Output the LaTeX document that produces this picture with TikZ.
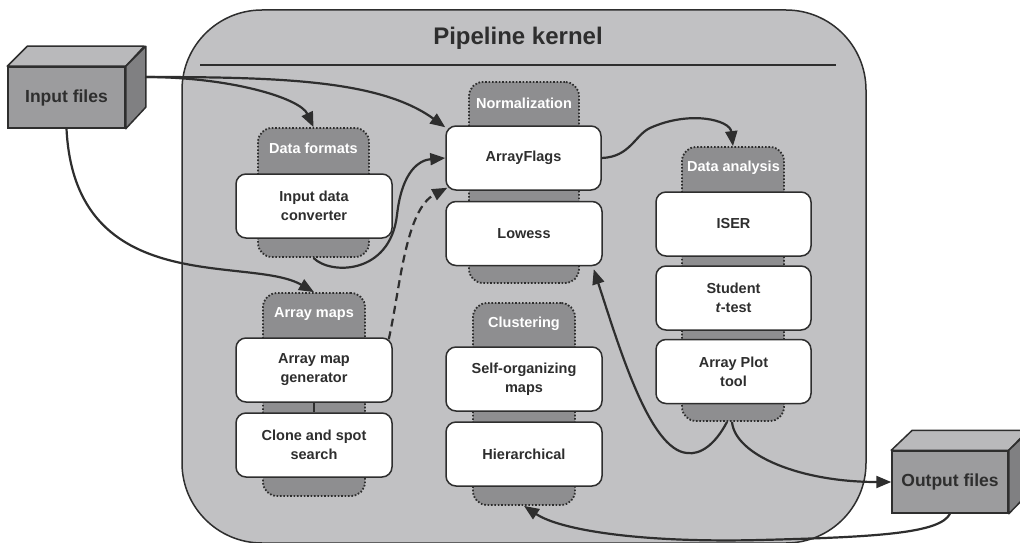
\documentclass[tikz,border=0pt]{standalone}
\usepackage{fontspec}
\setmainfont{Liberation Sans}
\usetikzlibrary{arrows.meta,calc}
\definecolor{ink}{HTML}{2E2E2E}
\definecolor{kernelgray}{HTML}{C1C1C3}
\definecolor{grpgray}{HTML}{8E8E90}
\definecolor{cubefront}{HTML}{9C9C9E}
\definecolor{cubetop}{HTML}{B9B9BB}
\definecolor{cubeside}{HTML}{808082}
\begin{document}
\begin{tikzpicture}[x=1pt,y=-1pt,
  kernelbox/.style={draw=ink, fill=kernelgray, line width=1.5pt, rounded corners=80pt, inner sep=0pt},
  groupbox/.style={draw=ink, fill=grpgray, line width=1.8pt, dash pattern=on 1.6pt off 1.8pt, rounded corners=14pt, inner sep=0pt},
  grouplabel/.style={text=white, font=\bfseries\fontsize{14.5}{17}\selectfont, inner sep=0pt},
  procbox/.style={draw=ink, fill=white, line width=1.5pt, rounded corners=10pt, inner sep=0pt,
    minimum width=156pt, minimum height=64pt, align=center, text=ink,
    font=\bfseries\fontsize{14.5}{19}\selectfont},
  cubebox/.style={draw=ink, fill=cubefront, line width=1.5pt, inner sep=0pt, text=ink,
    font=\bfseries\fontsize{17.5}{20}\selectfont},
  cubeface/.style={draw=ink, line width=1.5pt, line join=round},
  conn/.style={draw=ink, line width=2.2pt, -{Triangle[length=15pt,width=12pt]}},
  dashconn/.style={conn, dash pattern=on 8pt off 5pt},
  titletext/.style={text=ink, font=\bfseries\fontsize{24}{28}\selectfont, inner sep=0pt}
]
\useasboundingbox (0,0) rectangle (1020,543);
\clip (0,0) rectangle (1020,543);
\fill[white] (0,0) rectangle (1020,543);

% kernel
\node[kernelbox, minimum width=684pt, minimum height=533pt] (kernel) at (524,276.5) {};
\node[titletext, anchor=base] (ttl) at (518,45) {Pipeline kernel};
\draw[ink, line width=1.5pt] (200,65) -- (836,65);

% groups
\node[groupbox, minimum width=111pt, minimum height=129pt] (gdf) at (313.5,192.5) {};
\node[grouplabel] (gdfl) at (313.5,148) {Data formats};
\node[groupbox, minimum width=110pt, minimum height=201pt] (gno) at (524,182.5) {};
\node[grouplabel] (gnol) at (524,103) {Normalization};
\node[groupbox, minimum width=102pt, minimum height=274pt] (gda) at (733,284) {};
\node[grouplabel] (gdal) at (733.5,168) {Data analysis};
\node[groupbox, minimum width=102pt, minimum height=203pt] (gam) at (314,394.5) {};
\node[grouplabel] (gaml) at (314,314) {Array maps};
\node[groupbox, minimum width=102pt, minimum height=202pt] (gcl) at (524,404) {};
\node[grouplabel] (gcll) at (524,324) {Clustering};

% process nodes
\node[procbox] (idc) at (314,206) {Input data\\converter};
\node[procbox, minimum width=155pt] (af) at (523.5,158) {ArrayFlags};
\node[procbox] (lw) at (524,233.5) {Lowess};
\node[procbox, minimum width=155pt] (iser) at (733.5,224) {ISER};
\node[procbox, minimum width=155pt] (stt) at (733.5,298) {Student\\\textit{t}-test};
\node[procbox, minimum width=155pt] (apt) at (733.5,371.5) {Array Plot\\tool};
\node[procbox] (amg) at (314,370) {Array map\\generator};
\node[procbox] (css) at (314,445) {Clone and spot\\search};
\node[procbox] (som) at (524,379) {Self-organizing\\maps};
\node[procbox] (hier) at (524,454) {Hierarchical};
\draw[ink, line width=1.5pt] (amg.south) -- (css.north);

% input cube
\node[cubebox, minimum width=117pt, minimum height=61pt] (inf) at (66.5,97.5) {};
\filldraw[cubeface, fill=cubetop] (inf.north west) -- ++(20,-20) -- ++(117,0) -- (inf.north east) -- cycle;
\filldraw[cubeface, fill=cubeside] (inf.north east) -- ++(20,-20) -- ++(0,61) -- (inf.south east) -- cycle;
\node[cubebox, minimum width=117pt, minimum height=61pt] (infl) at (66.5,97.5) {Input files};
\coordinate (infR) at (145,77);

% output cube
\node[cubebox, minimum width=116pt, minimum height=62pt] (outf) at (950,482) {};
\filldraw[cubeface, fill=cubetop] (outf.north west) -- ++(21,-20) -- ++(116,0) -- (outf.north east) -- cycle;
\filldraw[cubeface, fill=cubeside] (outf.north east) -- ++(21,-20) -- ++(0,62) -- (outf.south east) -- cycle;
\node[cubebox, minimum width=116pt, minimum height=62pt] (outfl) at (950,482) {Output files};

% connectors
\draw[conn] (infR) .. controls (230,77) and (300,98) .. (gdf.north);
\draw[conn] (infR) .. controls (280,77) and (380,80) .. ($(af.north west)+(0,2)$);
\draw[conn] (infl.south) .. controls (75,300) and (250,255) .. (gam.north);
\draw[conn] (gdf.south) .. controls (330,275) and (390,275) .. (397,215)
  .. controls (402,170) and (420,160) .. (af.west);
\draw[dashconn] ($(amg.north east)+(-4,2)$) .. controls (400,290) and (405,210) .. ($(af.south west)+(2,-3)$);
\draw[conn] (af.east) .. controls (630,157) and (635,135) .. (650,128)
  .. controls (690,110) and (730,120) .. (gda.north);
\draw[conn] ($(gda.south)+(-6,0)$) .. controls (715,445) and (700,455) .. (687,453)
  .. controls (650,450) and (620,350) .. ($(lw.south east)+(-9,3)$);
\draw[conn] ($(gda.south)+(-1,0)$) .. controls (735,455) and (800,482) .. (outfl.west);
\draw[conn] (outfl.south) .. controls (940,533) and (880,537) .. (760,540)
  .. controls (640,543) and (560,530) .. (gcl.south);
\end{tikzpicture}
\end{document}
